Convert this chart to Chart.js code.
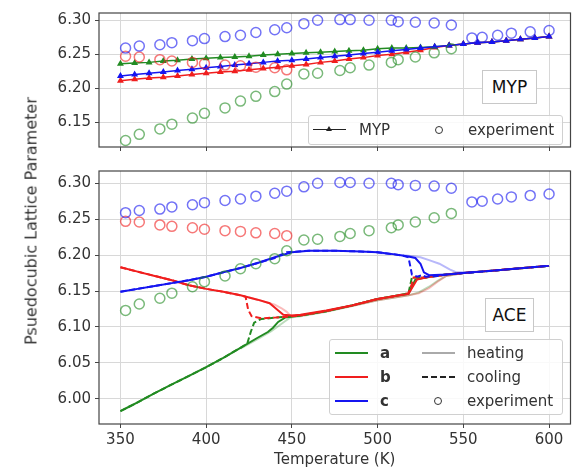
<!DOCTYPE html>
<html>
<head>
<meta charset="utf-8">
<script src="https://cdn.jsdelivr.net/npm/chart.js@4.4.1/dist/chart.umd.min.js"></script>
<style>
  body { margin: 0; background: #fff; }
  #wrap { position: relative; width: 577px; height: 471px; font-family: "DejaVu Sans", sans-serif; color: #333; overflow: hidden; }
  canvas { position: absolute; left: 0; }
  .box { position: absolute; background: rgba(255,255,255,0.85); border: 1px solid #d0d0d0; border-radius: 3px; box-sizing: border-box; }
  .lbl { position: absolute; border: 1px solid #c8c8c8; background: #fff; box-sizing: border-box; font-size: 17px; color: #111; text-align: center; }
  .t { position: absolute; height: 18px; line-height: 18px; font-size: 15px; white-space: nowrap; }
  .ln { position: absolute; width: 33px; height: 0; }
  .circ { position: absolute; width: 8px; height: 8px; border: 1.5px solid #333; border-radius: 50%; box-sizing: border-box; }
  #ytitle { position: absolute; left: 31px; top: 221px; transform: translate(-50%, -50%) rotate(-90deg); font-size: 16px; white-space: nowrap; }
</style>
</head>
<body>
<div id="wrap">
  <canvas id="top" width="577" height="160" style="top:0"></canvas>
  <canvas id="bottom" width="577" height="313" style="top:158px"></canvas>
  <div id="ytitle">Psuedocubic Lattice Parameter</div>

  <div class="lbl" style="left:482px;top:70px;width:55px;height:34px;line-height:32px">MYP</div>
  <div class="box" style="left:308px;top:115px;width:255px;height:30px"></div>
  <div class="ln" style="left:313px;top:129px;border-top:1.5px solid #222"></div>
  <div style="position:absolute;left:326px;top:126px;width:0;height:0;border-left:3px solid transparent;border-right:3px solid transparent;border-bottom:5px solid #222"></div>
  <div class="t" style="left:359px;top:121px">MYP</div>
  <div class="circ" style="left:435px;top:126px"></div>
  <div class="t" style="left:468px;top:121px">experiment</div>

  <div class="lbl" style="left:485px;top:298px;width:49px;height:34px;line-height:32px">ACE</div>
  <div class="box" style="left:329px;top:339px;width:234px;height:76px"></div>
  <div class="ln" style="left:335px;top:352px;border-top:2px solid #228b22"></div>
  <div class="t" style="left:380px;top:344px;font-weight:bold">a</div>
  <div class="ln" style="left:335px;top:376px;border-top:2px solid #f01e1e"></div>
  <div class="t" style="left:380px;top:368px;font-weight:bold">b</div>
  <div class="ln" style="left:335px;top:400px;border-top:2px solid #1515f0"></div>
  <div class="t" style="left:380px;top:392px;font-weight:bold">c</div>
  <div class="ln" style="left:422px;top:352px;border-top:2px solid #aaa"></div>
  <div class="t" style="left:467px;top:344px">heating</div>
  <div class="ln" style="left:422px;top:376px;border-top:2px dashed #222"></div>
  <div class="t" style="left:467px;top:368px">cooling</div>
  <div class="circ" style="left:434px;top:397px"></div>
  <div class="t" style="left:467px;top:392px">experiment</div>
</div>
<script>
// axes
const xTicks = [350, 400, 450, 500, 550, 600];
const yTicksTop = [6.15, 6.20, 6.25, 6.30];
const yTicksBottom = [6.00, 6.05, 6.10, 6.15, 6.20, 6.25, 6.30];

// experiment (same in both panels)
const expT = [353, 361, 373, 380, 392, 399, 411, 420, 429, 440, 447, 457, 465, 478, 484, 495, 508, 512, 522, 533, 543, 555, 561, 570, 578, 589, 600];
const expA = [6.123, 6.132, 6.140, 6.147, 6.156, 6.163, 6.171, 6.181, 6.188, 6.195, 6.206, 6.221, 6.222, 6.226, 6.230, 6.234, 6.238, 6.242, 6.246, 6.252, 6.258];
const expB = [6.247, 6.246, 6.242, 6.240, 6.238, 6.236, 6.234, 6.233, 6.231, 6.230, 6.227];
const expC = [6.259, 6.262, 6.264, 6.267, 6.270, 6.273, 6.276, 6.278, 6.282, 6.286, 6.289, 6.295, 6.300, 6.301, 6.301, 6.300, 6.300, 6.298, 6.297, 6.296, 6.293, 6.274, 6.275, 6.278, 6.281, 6.283, 6.285];

// MYP model
const mypT = [350, 358.3, 366.7, 375, 383.3, 391.7, 400, 408.3, 416.7, 425, 433.3, 441.7, 450, 458.3, 466.7, 475, 483.3, 491.7, 500, 508.3, 516.7, 525, 533.3, 541.7, 550, 558.3, 566.7, 575, 583.3, 591.7, 600];
const mypA = [6.236, 6.237, 6.238, 6.240, 6.241, 6.243, 6.244, 6.245, 6.246, 6.247, 6.249, 6.250, 6.251, 6.252, 6.253, 6.254, 6.255, 6.256, 6.258, 6.259, 6.259, 6.260, 6.261, 6.263, 6.265, 6.267, 6.268, 6.270, 6.272, 6.274, 6.276];
const mypB = [6.211, 6.213, 6.215, 6.216, 6.218, 6.220, 6.222, 6.224, 6.225, 6.227, 6.229, 6.231, 6.233, 6.235, 6.238, 6.240, 6.243, 6.245, 6.248, 6.250, 6.253, 6.256, 6.260, 6.263, 6.265, 6.267, 6.268, 6.270, 6.272, 6.274, 6.276];
const mypC = [6.218, 6.220, 6.222, 6.224, 6.226, 6.228, 6.230, 6.232, 6.234, 6.236, 6.238, 6.240, 6.241, 6.243, 6.245, 6.247, 6.249, 6.251, 6.253, 6.255, 6.257, 6.259, 6.261, 6.263, 6.265, 6.267, 6.268, 6.270, 6.272, 6.274, 6.276];

// ACE MD runs [T, value]
const aHeating = [[350,5.983],[355,5.989],[360,5.995],[370,6.008],[380,6.020],[390,6.032],[400,6.044],[410,6.057],[420,6.071],[430,6.085],[436,6.093],[439,6.099],[442,6.107],[446,6.113],[455,6.116],[470,6.122],[485,6.130],[500,6.139],[510,6.143],[518,6.146],[520,6.156],[522,6.166],[530,6.170],[540,6.173],[550,6.175],[560,6.177],[570,6.179],[580,6.181],[590,6.183],[600,6.185]];
const aHeatingRun2 = [[420,6.070],[430,6.083],[438,6.094],[442,6.101],[446,6.108],[449,6.113],[455,6.115],[470,6.121],[485,6.129],[500,6.137],[510,6.141],[518,6.144],[524,6.148],[530,6.156],[535,6.164],[540,6.171],[550,6.175]];
const aCooling = [[350,5.983],[360,5.995],[370,6.008],[380,6.020],[390,6.032],[400,6.044],[410,6.057],[420,6.071],[424,6.077],[426,6.093],[428,6.106],[432,6.111],[440,6.113],[446,6.114],[455,6.116],[470,6.122],[485,6.130],[500,6.139],[510,6.143],[518,6.147],[519,6.158],[520,6.169],[528,6.169],[535,6.171],[540,6.173],[550,6.175],[560,6.177],[570,6.179],[580,6.181],[590,6.183],[600,6.185]];
const bHeating = [[350,6.183],[360,6.177],[370,6.171],[380,6.165],[390,6.158],[400,6.153],[410,6.149],[420,6.144],[430,6.138],[437,6.133],[441,6.125],[445,6.117],[450,6.116],[455,6.117],[470,6.123],[485,6.130],[500,6.139],[510,6.143],[518,6.146],[521,6.158],[523,6.166],[530,6.170],[540,6.173],[550,6.175],[560,6.177],[570,6.179],[580,6.181],[590,6.183],[600,6.185]];
const bHeatingRun2 = [[425,6.141],[433,6.136],[440,6.131],[444,6.126],[447,6.121],[449,6.116],[455,6.116],[470,6.122],[485,6.129],[500,6.137],[510,6.141],[518,6.144],[524,6.147],[530,6.154],[535,6.163],[540,6.171],[550,6.175]];
const bCooling = [[350,6.183],[360,6.177],[370,6.171],[380,6.165],[390,6.158],[400,6.153],[410,6.149],[420,6.144],[423,6.142],[424.5,6.124],[426.5,6.115],[432,6.112],[440,6.113],[446,6.114],[455,6.116],[470,6.122],[485,6.130],[500,6.139],[510,6.143],[518,6.147],[520,6.160],[521,6.169],[528,6.169],[535,6.171],[540,6.173],[550,6.175],[560,6.177],[570,6.179],[580,6.181],[590,6.183],[600,6.185]];
const cHeating = [[350,6.149],[360,6.153],[370,6.157],[380,6.161],[390,6.165],[400,6.170],[410,6.176],[420,6.182],[430,6.189],[440,6.197],[450,6.204],[460,6.206],[475,6.206],[490,6.205],[500,6.204],[510,6.201],[518,6.198],[522,6.196],[525,6.188],[527,6.176],[530,6.172],[540,6.173],[550,6.175],[560,6.177],[570,6.179],[580,6.181],[590,6.183],[600,6.185]];
const cHeatingRun2 = [[500,6.203],[510,6.201],[518,6.199],[525,6.197],[530,6.193],[536,6.188],[542,6.180],[546,6.176],[550,6.176],[560,6.177]];
const cCooling = [[350,6.149],[360,6.153],[370,6.157],[380,6.161],[390,6.165],[400,6.170],[410,6.176],[420,6.182],[430,6.189],[440,6.196],[443,6.200],[447,6.204],[460,6.206],[475,6.206],[490,6.205],[500,6.204],[510,6.201],[515,6.199],[518,6.197],[519,6.185],[520,6.173],[523,6.170],[526,6.172],[528,6.170],[535,6.171],[540,6.173],[550,6.175],[560,6.177],[570,6.179],[580,6.181],[590,6.183],[600,6.185]];

const GREEN = '#228b22', RED = '#f01e1e', BLUE = '#1515f0';
const GREEN_O = 'rgba(34,139,34,0.6)', RED_O = 'rgba(240,30,30,0.6)', BLUE_O = 'rgba(21,21,240,0.6)';

const pts = (xs, ys) => ys.map((y, i) => ({ x: xs[i], y }));
const pairs = arr => arr.map(p => ({ x: p[0], y: p[1] }));

const frame = {
  id: 'frame',
  afterDraw(chart) {
    const a = chart.chartArea, ctx = chart.ctx;
    ctx.save();
    ctx.strokeStyle = '#444';
    ctx.lineWidth = 1.2;
    ctx.strokeRect(a.left, a.top, a.right - a.left, a.bottom - a.top);
    ctx.restore();
  }
};

function expSets() {
  return [
    { data: pts(expT, expC), borderColor: BLUE_O, order: 0 },
    { data: pts(expT, expB), borderColor: RED_O, order: 0 },
    { data: pts(expT, expA), borderColor: GREEN_O, order: 0 }
  ].map(d => Object.assign(d, { showLine: false, pointRadius: 5, pointBorderWidth: 1.5, backgroundColor: 'rgba(0,0,0,0)', pointBackgroundColor: 'rgba(0,0,0,0)' }));
}

function xScale(labels) {
  return {
    type: 'linear', min: 337.5, max: 612.5,
    afterBuildTicks: s => { s.ticks = xTicks.map(v => ({ value: v })); },
    afterFit: s => { s.height = labels ? 47 : 7; },
    grid: { color: '#d8d8d8', tickColor: '#444', tickLength: 4 },
    border: { display: false },
    ticks: { display: labels, color: '#333', font: { size: 15 }, padding: 3, maxRotation: 0 },
    title: { display: labels, text: 'Temperature (K)', color: '#333', font: { size: 15 }, padding: { top: 0, bottom: 2 } }
  };
}

function yScale(min, max, ticks) {
  return {
    type: 'linear', min, max,
    afterBuildTicks: s => { s.ticks = ticks.map(v => ({ value: v })); },
    afterFit: s => { s.width = 99; },
    grid: { color: '#d8d8d8', tickColor: '#444', tickLength: 4 },
    border: { display: false },
    ticks: { color: '#333', font: { size: 15 }, padding: 4, callback: v => v.toFixed(2) }
  };
}

const common = {
  responsive: false,
  animation: false,
  plugins: { legend: { display: false }, tooltip: { enabled: false } },
  font: { family: 'DejaVu Sans' }
};
Chart.defaults.font.family = 'DejaVu Sans';

const myp = (ys, color, order) => ({
  data: pts(mypT, ys), borderColor: color, backgroundColor: color,
  showLine: true, borderWidth: 1.5, pointStyle: 'triangle', pointRadius: 2.5, order
});

new Chart(document.getElementById('top'), {
  type: 'scatter',
  data: { datasets: [myp(mypC, BLUE, 1), myp(mypB, RED, 2), myp(mypA, GREEN, 3)].concat(expSets()) },
  options: Object.assign({}, common, {
    layout: { padding: { left: 0, right: 5, top: 6, bottom: 0 } },
    scales: { x: xScale(false), y: yScale(6.1134, 6.3107, yTicksTop) }
  }),
  plugins: [frame]
});

const run = (arr, color, dashed, order, width) => ({
  data: pairs(arr), borderColor: color, showLine: true, pointRadius: 0,
  borderWidth: width || 2, borderDash: dashed ? [6, 3] : [], order
});

new Chart(document.getElementById('bottom'), {
  type: 'scatter',
  data: {
    datasets: [
      run(cCooling, BLUE, true, 1),
      run(cHeating, BLUE, false, 2),
      run(cHeatingRun2, 'rgba(21,21,240,0.3)', false, 3),
      run(bCooling, RED, true, 4),
      run(bHeating, RED, false, 5),
      run(bHeatingRun2, 'rgba(240,30,30,0.3)', false, 6),
      run(aCooling, GREEN, true, 7),
      run(aHeating, GREEN, false, 8),
      run(aHeatingRun2, 'rgba(34,139,34,0.3)', false, 9)
    ].concat(expSets())
  },
  options: Object.assign({}, common, {
    layout: { padding: { left: 0, right: 5, top: 5, bottom: 0 } },
    scales: { x: xScale(true), y: yScale(5.965, 6.317, yTicksBottom) }
  }),
  plugins: [frame]
});
</script>
</body>
</html>
